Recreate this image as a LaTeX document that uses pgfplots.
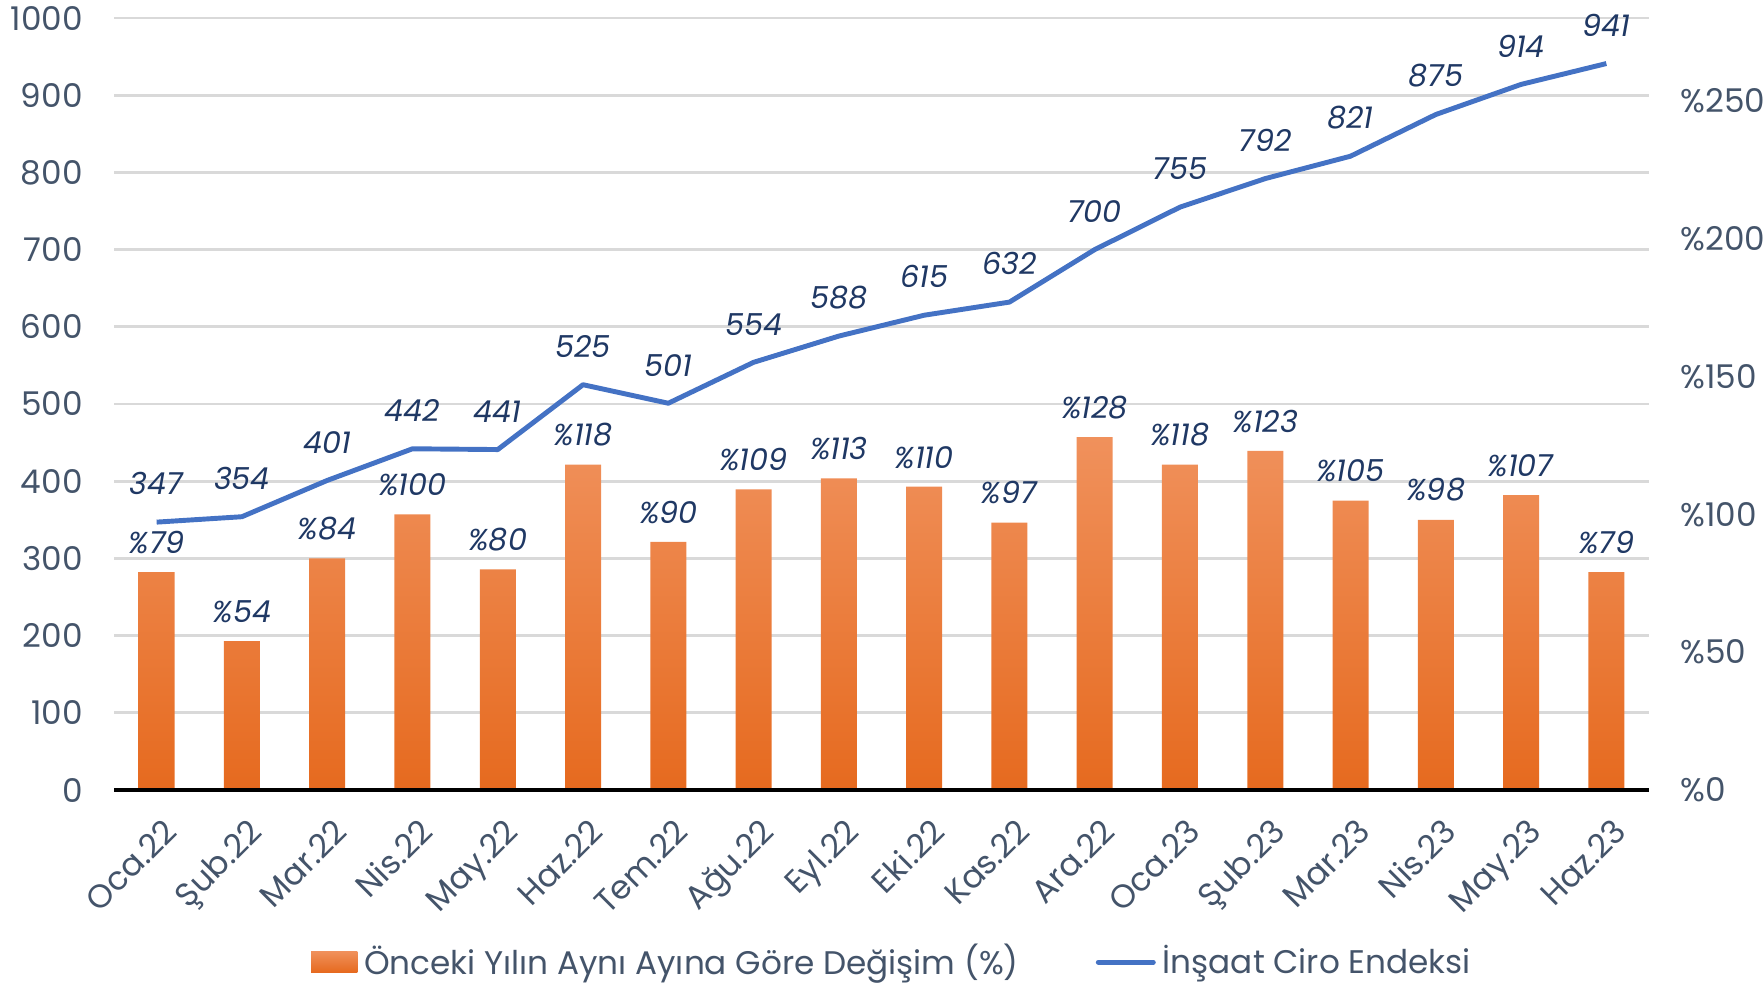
\documentclass[border=0pt]{standalone}
\usepackage{pgfplots}
\pgfplotsset{compat=1.18}
\usepackage{fontspec}
\setmainfont{Poppins}
\definecolor{tickc}{HTML}{44546A}
\definecolor{labc}{HTML}{1F3864}
\definecolor{lineb}{HTML}{4472C4}
\definecolor{bartop}{HTML}{F0915C}
\definecolor{barbot}{HTML}{E66A1F}
\definecolor{gridc}{HTML}{D9D9D9}
\pgfplotsset{
  base/.style={
    width=153.5mm, height=77.2mm, scale only axis,
    at={(0,0)}, anchor=south west,
    xmin=-0.5, xmax=17.5,
    tick style={draw=none},
    major tick length=0pt,
    /pgf/number format/assume math mode=true,
    /pgf/number format/1000 sep={},
    tick label style={font=\fontsize{9.3}{11}\selectfont, text=tickc},
  }
}
\begin{document}
\begin{tikzpicture}
\useasboundingbox (-11.4mm,-19.3mm) rectangle (165mm,79mm);
% grid + left axis + x labels
\begin{axis}[base, ymin=0, ymax=1000, ytick={0,100,...,1000},
  ymajorgrids, grid style={gridc, line width=0.8pt},
  xtick={0,...,17},
  xticklabels={Oca.22,Şub.22,Mar.22,Nis.22,May.22,Haz.22,Tem.22,Ağu.22,Eyl.22,Eki.22,Kas.22,Ara.22,Oca.23,Şub.23,Mar.23,Nis.23,May.23,Haz.23},
  xticklabel style={rotate=45, anchor=north east, yshift=-1mm, xshift=-0.3mm},
  axis x line*=bottom, axis y line*=left,
  x axis line style={draw=none}, y axis line style={draw=none},
  yticklabel style={xshift=-1.9mm}]
\addplot[draw=none] coordinates {(0,0)};
\end{axis}
% bars, right axis
\begin{axis}[base, ymin=0, ymax=280, ytick={0,50,...,250},
  yticklabel={\%\pgfmathprintnumber{\tick}},
  axis y line*=right, axis x line*=bottom, xtick=\empty,
  y axis line style={draw=none}, x axis line style={black, line width=0.9pt},
  yticklabel style={xshift=1.9mm}, axis on top]
\addplot[ybar, bar width=3.6mm, draw=none, top color=bartop, bottom color=barbot,
  nodes near coords={\textit{\%\pgfmathprintnumber{\pgfplotspointmeta}}},
  nodes near coords style={font=\fontsize{8.6}{10}\selectfont, text=labc, anchor=south, yshift=0.6mm}]
coordinates {(0,79) (1,54) (2,84) (3,100) (4,80) (5,118) (6,90) (7,109) (8,113) (9,110) (10,97) (11,128) (12,118) (13,123) (14,105) (15,98) (16,107) (17,79)};
\end{axis}
% line
\begin{axis}[base, ymin=0, ymax=1000, hide axis,
  legend style={at={(0.5,-0.223)}, anchor=center, xshift=1.3mm, draw=none, fill=none,
    font=\fontsize{9.3}{11}\selectfont, text=tickc,
    /tikz/every even column/.append style={column sep=7mm}},
  legend columns=2, legend cell align=left]
\addlegendimage{legend image code/.code={\shade[draw=none, top color=bartop, bottom color=barbot] (0mm,-1mm) rectangle (4.6mm,1.1mm);}}
\addlegendentry{Önceki Yılın Aynı Ayına Göre Değişim (\%)}
\addplot[lineb, line width=1.4pt, line join=round, mark=none,
  legend image code/.code={\draw[lineb, line width=1.4pt, line cap=round] (0mm,0mm) -- (5.5mm,0mm);},
  nodes near coords={\textit{\pgfmathprintnumber{\pgfplotspointmeta}}},
  nodes near coords style={font=\fontsize{8.6}{10}\selectfont, text=labc, anchor=south, yshift=1.3mm}]
coordinates {(0,347) (1,354) (2,401) (3,442) (4,441) (5,525) (6,501) (7,554) (8,588) (9,615) (10,632) (11,700) (12,755) (13,792) (14,821) (15,875) (16,914) (17,941)};
\addlegendentry{İnşaat Ciro Endeksi}
\end{axis}
\end{tikzpicture}
\end{document}
